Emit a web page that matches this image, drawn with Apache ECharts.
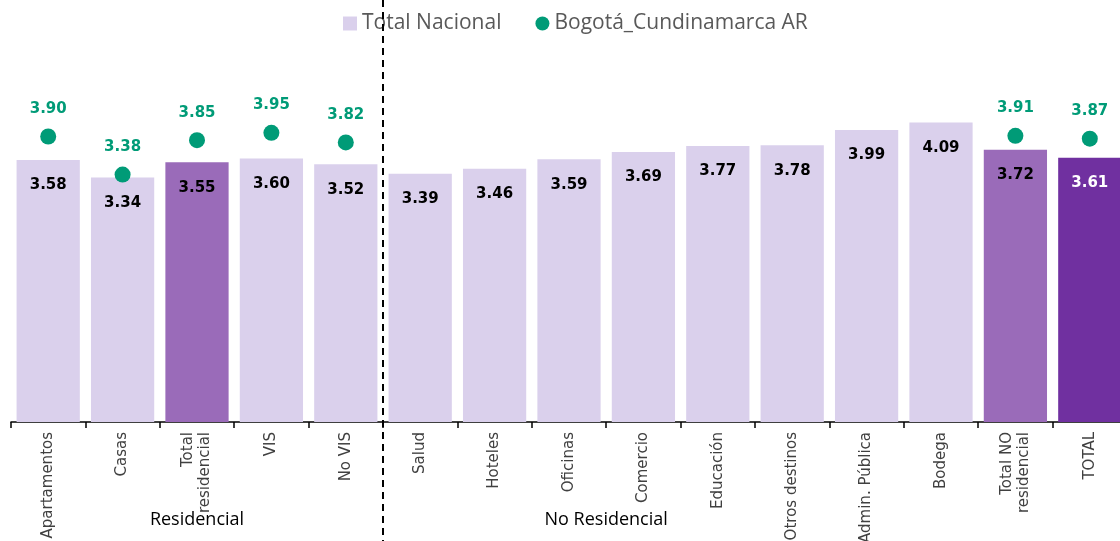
<!DOCTYPE html>
<html>
<head>
<meta charset="utf-8">
<script src="https://cdn.jsdelivr.net/npm/echarts@6/dist/echarts.min.js"></script>
<style>
  html, body { margin: 0; padding: 0; background: #fff; }
  #chart { width: 1120px; height: 541px; }
</style>
</head>
<body>
<div id="chart"></div>
<script>
const categories = ['Apartamentos', 'Casas', 'Total\nresidencial', 'VIS', 'No VIS', 'Salud', 'Hoteles',
  'Oficinas', 'Comercio', 'Educación', 'Otros destinos', 'Admin. Pública', 'Bodega',
  'Total NO\nresidencial', 'TOTAL'];
const totalNacional = [3.58, 3.34, 3.55, 3.60, 3.52, 3.39, 3.46, 3.59, 3.69, 3.77, 3.78, 3.99, 4.09, 3.72, 3.61];
const bogota = [3.90, 3.38, 3.85, 3.95, 3.82, null, null, null, null, null, null, null, null, 3.91, 3.87];
const groups = [
  { name: 'Residencial', from: 0, to: 4 },
  { name: 'No Residencial', from: 7, to: 8 }
];

const light = '#dad0ec';
const mid = '#9a6bb9';
const dark = '#7030a0';
const green = '#009b77';

function barColor(i) {
  if (i === 14) return dark;
  if (i === 2 || i === 13) return mid;
  return light;
}

let barData = [];
for (var i = 0; i < totalNacional.length; i++) {
  barData.push({
    value: totalNacional[i],
    itemStyle: { color: barColor(i) },
    label: { color: i === 14 ? '#ffffff' : '#000000' }
  });
}

const chart = echarts.init(document.getElementById('chart'));
chart.setOption({
  animation: false,
  legend: {
    top: 8,
    left: 338,
    itemGap: 34,
    itemWidth: 14,
    itemHeight: 14,
    textStyle: { fontFamily: 'Open Sans', fontSize: 21, color: '#595959' },
    data: [
      { name: 'Total Nacional', icon: 'rect', itemStyle: { color: light } },
      { name: 'Bogotá_Cundinamarca AR', icon: 'circle', itemStyle: { color: green, opacity: 1 } }
    ]
  },
  grid: { left: 11, width: 1116, top: 56, bottom: 119, outerBoundsMode: 'none', containLabel: false },
  xAxis: {
    type: 'category',
    data: categories,
    axisLine: { lineStyle: { color: '#000', width: 1.5 } },
    axisTick: { show: true, length: 6, lineStyle: { color: '#000', width: 1.5 } },
    axisLabel: {
      rotate: 90,
      interval: 0,
      margin: 10,
      fontFamily: 'DejaVu Sans',
      fontSize: 15,
      lineHeight: 17,
      color: '#404040'
    }
  },
  yAxis: { type: 'value', min: 0, max: 5, show: false, splitLine: { show: false } },
  series: [
    {
      name: 'Total Nacional',
      type: 'bar',
      barWidth: '85%',
      data: barData,
      label: {
        show: true,
        position: 'insideTop',
        distance: 18,
        fontFamily: 'DejaVu Sans',
        fontWeight: 'bold',
        fontSize: 15,
        formatter: p => p.value.toFixed(2)
      }
    },
    {
      name: 'Bogotá_Cundinamarca AR',
      type: 'scatter',
      symbolSize: 16,
      itemStyle: { color: green, opacity: 1 },
      data: bogota,
      z: 5,
      label: {
        show: true,
        position: 'top',
        distance: 12,
        color: green,
        fontFamily: 'DejaVu Sans',
        fontWeight: 'bold',
        fontSize: 15,
        formatter: p => Number(Array.isArray(p.value) ? p.value[1] : p.value).toFixed(2)
      }
    }
  ]
});

// divider between residential and non residential groups, and group names
let x4 = chart.convertToPixel({ xAxisIndex: 0 }, 4);
let x5 = chart.convertToPixel({ xAxisIndex: 0 }, 5);
let divX = (x4 + x5) / 2;
let graphics = [{
  type: 'line',
  shape: { x1: divX, y1: 0, x2: divX, y2: 541 },
  style: { stroke: '#000', lineWidth: 2, lineDash: [7, 5] },
  z: 10
}];
for (var g of groups) {
  let a = chart.convertToPixel({ xAxisIndex: 0 }, g.from);
  let b = chart.convertToPixel({ xAxisIndex: 0 }, g.to);
  graphics.push({
    type: 'text',
    x: (a + b) / 2,
    y: 520,
    style: {
      text: g.name,
      fontFamily: 'Open Sans',
      fontSize: 18,
      fill: '#000',
      align: 'center',
      verticalAlign: 'middle'
    }
  });
}
chart.setOption({ graphic: graphics });
</script>
</body>
</html>
